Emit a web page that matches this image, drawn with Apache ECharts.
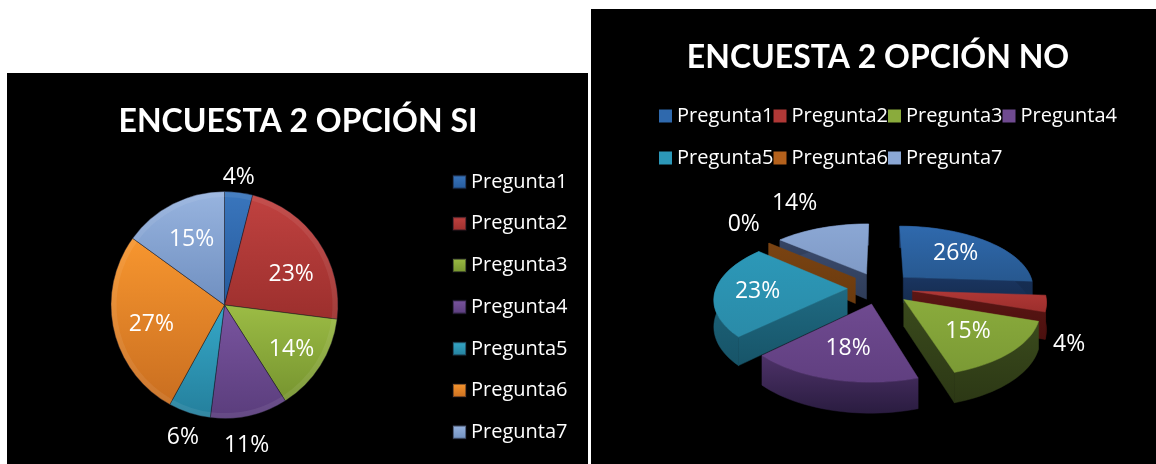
<!DOCTYPE html>
<html><head><meta charset="utf-8">
<script src="https://cdn.jsdelivr.net/npm/echarts@6/dist/echarts.min.js"></script>
<style>
html,body{margin:0;padding:0;background:#fff;width:1156px;height:464px;overflow:hidden}
#si{position:absolute;left:7px;top:73px;width:581px;height:391px;background:#000}
#no{position:absolute;left:591px;top:9px;width:565px;height:455px;background:#000}
</style></head><body>
<div id="si"></div><div id="no"></div>
<script>
const categories = ['Pregunta1','Pregunta2','Pregunta3','Pregunta4','Pregunta5','Pregunta6','Pregunta7'];
const valuesSi = [4,23,14,11,6,27,15];
const valuesNo = [26,4,15,18,23,0,14];
const colorsTop = ['#3a76bd','#c04240','#9cbc45','#7a55a0','#36a8c8','#f7962f','#98b4df'];
const colorsBottom = ['#255a9c','#9c2f2d','#76942f','#5a3d7c','#247f9c','#c96e20','#6f8fc0'];
const colorsNoTop = ['#2f69ad','#b03836','#8aab3c','#6f4a90','#2c98b8','#b4611c','#8ba7d4'];
const colorsNoBottom = ['#27588f','#9c2e2c','#7b9a35','#603f80','#2a8ba8','#a0541a','#7f9ac6'];
const colorsWall = ['#1a3560','#5c1614','#3a4a1c','#4d3268','#1f6a82','#7a4312','#3c4c6e'];
const colorsWallDark = ['#142a4c','#4a100e','#2c3815','#2a1c40','#175468','#6a3a0e','#2e3c58'];
const LABEL_SIZE = 23, LABEL_FAMILY = '"Open Sans", sans-serif';
const LABEL_FONT = LABEL_SIZE + 'px ' + LABEL_FAMILY;
const { LinearGradient } = echarts.graphic;
const vGrad = (a, b) => new LinearGradient(0, 0, 0, 1, [{offset:0,color:a},{offset:1,color:b}]);
const pieData = () => categories.map((n, i) => ({name:n, value:valuesSi[i]}));

/* ---------- left: flat pie ---------- */
const siCenter = [217.5, 232];
const legendText = {color:'#fff', fontFamily:LABEL_FAMILY, fontSize:20};
const labelStyle = {formatter:'{c}%', color:'#fff', fontSize:LABEL_SIZE, fontFamily:LABEL_FAMILY};
const siOuterOffset = {0:[-3,9], 3:[-8,6], 4:[1,1]};
const siInnerOffset = {1:[3,13]};
const siChart = echarts.init(document.getElementById('si'), null, {renderer:'canvas'});
siChart.setOption({
  animation:false,
  title:{text:'ENCUESTA 2 OPCIÓN SI', left:286, top:28, textAlign:'center',
         textStyle:{color:'#fff', fontFamily:'Lato, sans-serif', fontWeight:'bold', fontSize:32}},
  legend:{orient:'vertical', left:445, top:99, padding:0, itemWidth:13, itemHeight:13, itemGap:21.7, icon:'rect',
          textStyle:legendText, data:categories, selectedMode:false},
  series:[
    {type:'pie', radius:[0,113.5], center:siCenter, startAngle:90, clockwise:true, silent:true, label:{show:false},
     data:pieData().map((d,i)=>({...d, itemStyle:{color:vGrad(colorsTop[i], colorsBottom[i]), borderColor:'rgba(20,20,30,0.45)', borderWidth:1}}))},
    {type:'pie', radius:[108,113.5], center:siCenter, startAngle:90, silent:true, label:{show:false},
     data:pieData().map(d=>({...d, itemStyle:{color:'rgba(255,255,255,0.07)'}}))},
    {type:'pie', radius:[35,113], center:siCenter, startAngle:90, silent:true, labelLine:{show:false},
     data:pieData().map((d,i)=>({...d, itemStyle:{color:'transparent'},
       label:{...labelStyle, show:d.value>=14, position:'inside', offset:siInnerOffset[i]||[2,3]}}))},
    {type:'pie', radius:[120,150], center:siCenter, startAngle:90, silent:true, labelLine:{show:false},
     data:pieData().map((d,i)=>({...d, itemStyle:{color:'transparent'},
       label:{...labelStyle, show:d.value<14, position:'inside', offset:siOuterOffset[i]||[0,0]}}))}
  ]
});

/* ---------- right: exploded perspective pie ---------- */
const CX = 289, CY = 279, RX = 131, RY = 64, PERSP = 0.15, EXPLODE = 0.25, DEPTH = 26;
const OUTSIDE_BELOW = 14.5;
const labelNudge = {1:[-33,36], 4:[-8,2], 5:[4,-7], 6:[-14,-10]};
function project(u, v, drop) {
  const s = 1 + PERSP * v;
  return [CX + RX * u * s, CY + RY * v * s + drop * s];
}
function renderSlice(idx) {
  return function (params, api) {
    const value = api.value(0), start = api.value(1);
    const a0 = start / 100 * 2 * Math.PI, a1 = (start + value) / 100 * 2 * Math.PI, mid = (a0 + a1) / 2;
    const ou = EXPLODE * Math.sin(mid), ov = -EXPLODE * Math.cos(mid);
    const steps = Math.max(1, Math.ceil(value * 1.5));
    const rim = [];
    for (let k = 0; k <= steps; k++) {
      const a = a0 + (a1 - a0) * k / steps;
      rim.push([ou + Math.sin(a), ov - Math.cos(a)]);
    }
    const apex = [ou, ov];
    const P = (p, d) => project(p[0], p[1], d);
    const base = Math.round(100 * (1 - Math.cos(mid) + 1));
    const wallFill = vGrad(colorsWall[idx], colorsWallDark[idx]);
    const poly = (pts, fill, z) => ({type:'polygon', shape:{points:pts}, style:{fill, stroke:fill, lineWidth:0.5}, z2:z});
    const children = [];
    const cut = (p) => poly([P(apex,0), P(p,0), P(p,DEPTH), P(apex,DEPTH)], wallFill, base);
    if (-Math.sin(a0) > 1e-6) children.push(cut(rim[0]));
    if (Math.sin(a1) > 1e-6) children.push(cut(rim[rim.length-1]));
    const outer = rim.map(p=>P(p,0)).concat(rim.slice().reverse().map(p=>P(p,DEPTH)));
    children.push(poly(outer, wallFill, base + 1));
    if (value > 0) {
      children.push(poly([P(apex,0)].concat(rim.map(p=>P(p,0))), vGrad(colorsNoTop[idx], colorsNoBottom[idx]), base + 2));
    }
    const outside = value < OUTSIDE_BELOW;
    const rad = outside ? 1.4 : 0.62;
    const lp = project(ou + rad * Math.sin(mid), ov - rad * Math.cos(mid), 0);
    const n = labelNudge[idx] || [0,0];
    children.push({type:'text', z2:1000, style:{x:lp[0]+n[0], y:lp[1]+n[1], text:value+'%', fill:'#fff',
      font:LABEL_FONT, align:'center', verticalAlign:'middle'}});
    return {type:'group', children};
  };
}
let cum = 0;
const noSeries = categories.map((name, i) => {
  const s = {type:'custom', name, coordinateSystem:'none', silent:true, clip:false,
    itemStyle:{color:colorsNoTop[i]}, data:[[valuesNo[i], cum]], renderItem:renderSlice(i)};
  cum += valuesNo[i];
  return s;
});
const noChart = echarts.init(document.getElementById('no'), null, {renderer:'canvas'});
const rowLegend = (top, names) => ({orient:'horizontal', left:68, top, padding:0, itemWidth:13, itemHeight:13, itemGap:0,
  icon:'rect', textStyle:legendText, data:names, selectedMode:false});
noChart.setOption({
  animation:false,
  title:{text:'ENCUESTA 2 OPCIÓN NO', left:282, top:28, textAlign:'center',
         textStyle:{color:'#fff', fontFamily:'Lato, sans-serif', fontWeight:'bold', fontSize:32}},
  legend:[rowLegend(97, categories.slice(0,4)), rowLegend(139, categories.slice(4))],
  series:noSeries
});
</script>
</body></html>
